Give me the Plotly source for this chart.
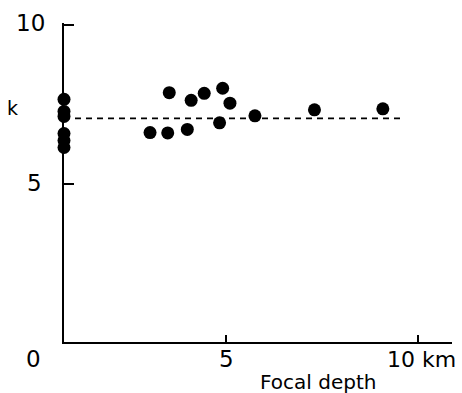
import plotly.graph_objects as go

# Focal depth (km) and k values
depth = [0.78, 0.78, 0.78, 0.78, 0.78, 0.78,
         3.02, 3.48, 3.52, 3.99, 4.09, 4.43, 4.83, 4.91, 5.10, 5.75, 7.30, 9.08]
k_vals = [7.66, 7.28, 7.12, 6.58, 6.36, 6.14,
          6.61, 6.60, 7.87, 6.71, 7.63, 7.85, 6.92, 8.01, 7.54, 7.14, 7.33, 7.36]

mean_k = 7.06
mean_x = [0.78, 9.58]
mean_y = [mean_k, mean_k]

x_ticks = [5, 10]
y_ticks = [5, 10]

FONT = "DejaVu Sans"
W, H = 462, 393
ml, mr, mt, mb = 64, 10, 23, 51
pw, ph = W - ml - mr, H - mt - mb

# text labels placed by pixel position (x, y, text, size)
labels = [
    (30, 23, "10", 23),
    (34, 183, "5", 23),
    (33, 359, "0", 23),
    (226, 359, "5", 23),
    (421, 359, "10 km", 22),
    (12, 108, "k", 19),
    (318, 382, "Focal depth", 20),
]

annotations = []
for px, py, t, s in labels:
    annotations.append(dict(
        x=(px - ml) / pw, y=(H - mb - py) / ph, xref="paper", yref="paper",
        text=t, showarrow=False, xanchor="center", yanchor="middle",
        font=dict(family=FONT, size=s, color="black")))

fig = go.Figure()
fig.add_trace(go.Scatter(
    x=mean_x, y=mean_y, mode="lines",
    line=dict(color="black", width=1.6, dash="6px,5px"),
    hoverinfo="skip", showlegend=False))
fig.add_trace(go.Scatter(
    x=depth, y=k_vals, mode="markers",
    marker=dict(color="black", size=13, line=dict(width=0)),
    cliponaxis=False, showlegend=False))

fig.update_layout(
    width=W, height=H,
    margin=dict(l=ml, r=mr, t=mt, b=mb, pad=0),
    paper_bgcolor="white", plot_bgcolor="white",
    annotations=annotations,
    xaxis=dict(range=[0.78, 10.88], showgrid=False, zeroline=False,
               showline=True, linecolor="black", linewidth=2, mirror=False,
               tickvals=x_ticks, ticks="inside", ticklen=7, tickwidth=1.5,
               tickcolor="black", showticklabels=False),
    yaxis=dict(range=[0, 10.07], showgrid=False, zeroline=False,
               showline=True, linecolor="black", linewidth=2, mirror=False,
               tickvals=y_ticks, ticks="inside", ticklen=10, tickwidth=1.5,
               tickcolor="black", showticklabels=False),
)

fig.write_html("out.html", config={"displayModeBar": False},
               post_script="document.body.style.margin='0';")
